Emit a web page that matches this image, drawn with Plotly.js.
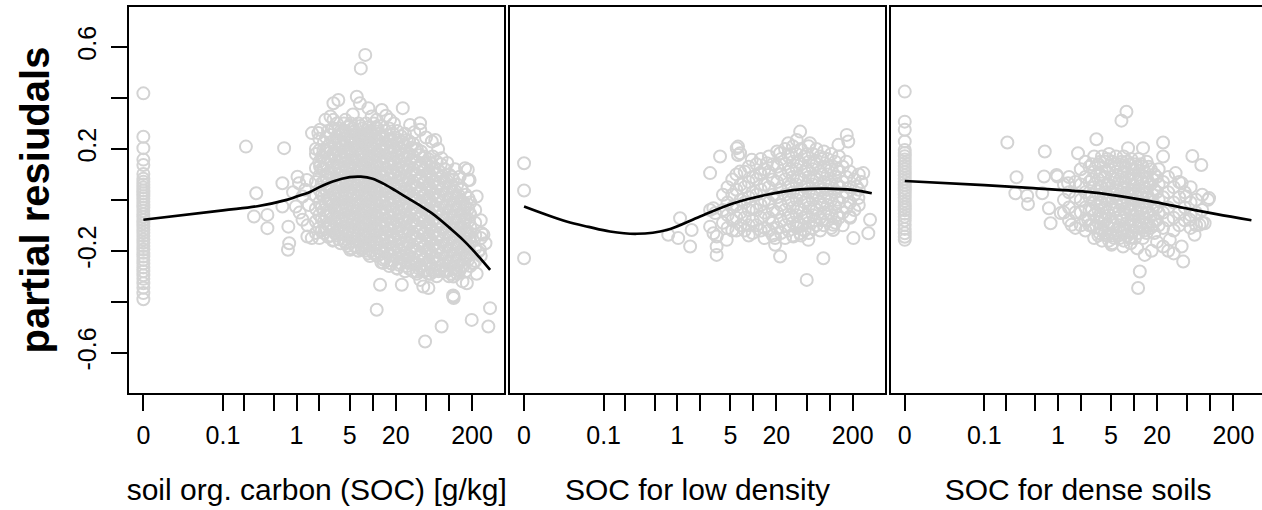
<!DOCTYPE html>
<html><head><meta charset="utf-8">
<script src="https://cdn.plot.ly/plotly-3.0.1.min.js"></script>
<style>html,body{margin:0;padding:0;overflow:hidden;background:#fff}#chart{width:1266px;height:510px}</style>
</head><body><div id="chart"></div>
<script>
// SOC axis is drawn as log10(SOC + 0.01)
const OFFSET = 0.01;
const tickSOC = [0, 0.1, 0.2, 0.5, 1, 2, 5, 10, 20, 50, 100, 200];
const tickLabels = ['0', '0.1', '', '', '1', '', '5', '', '20', '', '', '200'];
const yTicks = [-0.6, -0.4, -0.2, 0, 0.2, 0.4, 0.6];
const yTickLabels = ['-0.6', '', '-0.2', '', '0.2', '', '0.6'];
const panelTitles = ['soil org. carbon (SOC) [g/kg]', 'SOC for low density', 'SOC for dense soils'];
const yTitle = 'partial resiudals';

// panel 1: [SOC, partial residual]
const p1Points = [
[0,.418],[0,.248],[0,.203],[0,.158],[0,.137],[0,.102],[0,.083],[0,.071],[0,.06],[0,.049],[0,.037],[0,.026],[0,.014],[0,.004],[0,-.007],[0,-.019],[0,-.03],[0,-.043],[0,-.055],[0,-.066],[0,-.079],[0,-.092],[0,-.104],[0,-.117],[0,-.129],[0,-.142],[0,-.156],[0,-.168],[0,-.181],[0,-.195],[0,-.208],[0,-.222],[0,-.236],[0,-.25],[0,-.265],[0,-.28],[0,-.296],[0,-.31],[0,-.327],[0,-.345],[0,-.366],[0,-.39],
[.21,.209],[.685,.203],[.29,.026],[.27,-.065],[.41,-.059],[.41,-.111],[.65,.065],[.65,-.026],[.78,-.105],[.8,-.17],[.77,-.196],[1.03,.091],[1.08,.065],[.98,-.026],[1.2,-.078],[1.2,.013],[1.39,-.144],[1.3,.04],[1.45,-.02],[1.37,.078],[1.4,-.1],[.9,.03],[1.1,-.05],
[8,.569],[7,.516],[3.55,.392],[3.06,.379],[6.2,.405],[6.8,.379],[8.8,.36],[13.2,.353],[24.8,.36],[16.9,.314],[41.8,.301],[3.06,.314],[1.94,.262],[2.26,.196],[59.5,.229],[80,.163],[162,.124],[179,.078],[179,.007],[2.04,.131],[2.04,.275],[1.6,.262],[2.4,.314],[2.8,.327],[4.4,.314],[11.3,.314],[9.7,.327],[30.9,.294],[42,.275],[66,.235],[108,.091],[138,.091],[186,.078],[146,.046],[176,.118],[230,.013],[186,-.052],[1.8,.2],[5.5,.335],[15,.33],[19,.3],[35,.265],[50,.245],[72,.2],[95,.145],[120,.12],
[1.59,-.15],[3.06,-.157],[5.06,-.196],[7.2,-.196],[13.8,-.248],[20.7,-.268],[12.5,-.333],[24.1,-.333],[46,-.34],[53.7,-.346],[114,-.379],[115,-.385],[113,-.375],[11.3,-.431],[80,-.497],[48.6,-.556],[198,-.471],[327,-.497],[344,-.425],[282,-.137],[242,-.203],[171,-.327],[76,-.275],[114,-.301],[37.8,-.281],[29.3,-.248],[42,-.314],[93,-.281],[126,-.275],[208,-.248],[254,-.196],[268,-.131],[171,-.131],[300,-.17],[230,-.29],[150,-.32],
[1.8,.18],[1.8,.125],[1.8,.07],[1.8,.015],[1.8,-.035],[1.8,-.085],[1.8,-.13],
[2,.24],[2,.195],[2,.15],[2,.095],[2,.04],[2,-.01],[2,-.06],[2,-.11],[2,-.15],
[2.3,.225],[2.3,.165],[2.3,.12],[2.3,.07],[2.3,.015],[2.3,-.04],[2.3,-.085],[2.3,-.13],
[2.6,.27],[2.6,.21],[2.6,.16],[2.6,.105],[2.6,.05],[2.6,0],[2.6,-.05],[2.6,-.1],[2.6,-.145],
[3,.28],[3,.23],[3,.18],[3,.13],[3,.08],[3,.025],[3,-.02],[3,-.07],[3,-.12],[3,-.16],
[3.4,.3],[3.4,.25],[3.4,.2],[3.4,.15],[3.4,.1],[3.4,.05],[3.4,.003],[3.4,-.045],[3.4,-.095],[3.4,-.14],
[3.8,.27],[3.8,.22],[3.8,.17],[3.8,.12],[3.8,.07],[3.8,.02],[3.8,-.03],[3.8,-.08],[3.8,-.125],[3.8,-.17],
[4.2,.3],[4.2,.24],[4.2,.19],[4.2,.14],[4.2,.09],[4.2,.04],[4.2,-.01],[4.2,-.06],[4.2,-.11],[4.2,-.16],
[4.7,.285],[4.7,.225],[4.7,.17],[4.7,.12],[4.7,.07],[4.7,.02],[4.7,-.03],[4.7,-.08],[4.7,-.13],[4.7,-.18],
[5.2,.3],[5.2,.25],[5.2,.2],[5.2,.15],[5.2,.1],[5.2,.05],[5.2,.002],[5.2,-.05],[5.2,-.1],[5.2,-.15],[5.2,-.19],
[5.8,.27],[5.8,.22],[5.8,.165],[5.8,.12],[5.8,.07],[5.8,.02],[5.8,-.03],[5.8,-.08],[5.8,-.13],[5.8,-.18],
[6.5,.3],[6.5,.25],[6.5,.2],[6.5,.14],[6.5,.09],[6.5,.04],[6.5,-.01],[6.5,-.06],[6.5,-.11],[6.5,-.16],[6.5,-.2],
[7.3,.28],[7.3,.23],[7.3,.18],[7.3,.125],[7.3,.07],[7.3,.02],[7.3,-.04],[7.3,-.09],[7.3,-.14],[7.3,-.19],
[8.2,.3],[8.2,.25],[8.2,.2],[8.2,.15],[8.2,.1],[8.2,.05],[8.2,.004],[8.2,-.05],[8.2,-.1],[8.2,-.15],[8.2,-.2],
[9.2,.27],[9.2,.22],[9.2,.17],[9.2,.12],[9.2,.07],[9.2,.02],[9.2,-.03],[9.2,-.08],[9.2,-.13],[9.2,-.18],[9.2,-.22],
[10.3,.3],[10.3,.25],[10.3,.2],[10.3,.15],[10.3,.1],[10.3,.045],[10.3,-.01],[10.3,-.06],[10.3,-.11],[10.3,-.16],[10.3,-.21],
[11.5,.28],[11.5,.23],[11.5,.18],[11.5,.13],[11.5,.08],[11.5,.03],[11.5,-.02],[11.5,-.07],[11.5,-.12],[11.5,-.17],[11.5,-.22],
[13,.29],[13,.24],[13,.19],[13,.14],[13,.09],[13,.04],[13,-.01],[13,-.06],[13,-.11],[13,-.16],[13,-.21],[13,-.245],
[14.6,.27],[14.6,.22],[14.6,.17],[14.6,.12],[14.6,.07],[14.6,.02],[14.6,-.03],[14.6,-.08],[14.6,-.13],[14.6,-.18],[14.6,-.23],
[16.5,.28],[16.5,.23],[16.5,.18],[16.5,.13],[16.5,.08],[16.5,.03],[16.5,-.02],[16.5,-.07],[16.5,-.12],[16.5,-.17],[16.5,-.22],[16.5,-.26],
[18.5,.26],[18.5,.21],[18.5,.16],[18.5,.11],[18.5,.06],[18.5,.01],[18.5,-.04],[18.5,-.09],[18.5,-.14],[18.5,-.19],[18.5,-.24],
[21,.27],[21,.22],[21,.17],[21,.12],[21,.07],[21,.02],[21,-.03],[21,-.08],[21,-.13],[21,-.18],[21,-.23],[21,-.27],
[23.5,.25],[23.5,.2],[23.5,.15],[23.5,.1],[23.5,.05],[23.5,.003],[23.5,-.05],[23.5,-.1],[23.5,-.15],[23.5,-.2],[23.5,-.25],
[26.5,.26],[26.5,.21],[26.5,.16],[26.5,.11],[26.5,.06],[26.5,.01],[26.5,-.04],[26.5,-.09],[26.5,-.14],[26.5,-.19],[26.5,-.24],[26.5,-.28],
[30,.23],[30,.18],[30,.13],[30,.08],[30,.03],[30,-.02],[30,-.07],[30,-.12],[30,-.17],[30,-.22],[30,-.27],
[34,.22],[34,.17],[34,.12],[34,.07],[34,.02],[34,-.03],[34,-.08],[34,-.13],[34,-.18],[34,-.23],[34,-.28],
[38,.2],[38,.15],[38,.1],[38,.05],[38,.002],[38,-.05],[38,-.1],[38,-.15],[38,-.2],[38,-.25],[38,-.29],
[43,.19],[43,.14],[43,.09],[43,.04],[43,-.01],[43,-.06],[43,-.11],[43,-.16],[43,-.21],[43,-.26],
[48,.17],[48,.12],[48,.07],[48,.02],[48,-.03],[48,-.08],[48,-.13],[48,-.18],[48,-.23],[48,-.28],
[54,.16],[54,.11],[54,.06],[54,.01],[54,-.04],[54,-.09],[54,-.14],[54,-.19],[54,-.24],[54,-.29],
[61,.17],[61,.12],[61,.07],[61,.02],[61,-.03],[61,-.08],[61,-.13],[61,-.18],[61,-.23],[61,-.28],
[69,.15],[69,.1],[69,.05],[69,.0],[69,-.05],[69,-.1],[69,-.15],[69,-.2],[69,-.25],[69,-.3],
[78,.14],[78,.09],[78,.04],[78,-.01],[78,-.06],[78,-.11],[78,-.16],[78,-.21],[78,-.26],
[88,.12],[88,.07],[88,.02],[88,-.03],[88,-.08],[88,-.13],[88,-.18],[88,-.23],[88,-.28],
[100,.1],[100,.05],[100,.0],[100,-.05],[100,-.1],[100,-.15],[100,-.2],[100,-.25],[100,-.3],
[113,.08],[113,.03],[113,-.02],[113,-.07],[113,-.12],[113,-.17],[113,-.22],[113,-.27],
[128,.06],[128,.01],[128,-.04],[128,-.09],[128,-.14],[128,-.19],[128,-.24],[128,-.29],
[145,.04],[145,-.01],[145,-.06],[145,-.11],[145,-.16],[145,-.21],[145,-.26],
[165,.02],[165,-.03],[165,-.08],[165,-.13],[165,-.18],[165,-.23],[165,-.28],
[190,-.01],[190,-.06],[190,-.11],[190,-.16],[190,-.21],[190,-.26],
[220,-.04],[220,-.09],[220,-.14],[220,-.19],[220,-.24],
[260,-.08],[260,-.15],[260,-.22],
[2.15,.17],[2.15,.12],[2.15,.065],[2.15,.02],[2.15,-.03],[2.15,-.075],[2.15,-.12],
[2.45,.245],[2.45,.19],[2.45,.14],[2.45,.09],[2.45,.04],[2.45,-.015],[2.45,-.065],[2.45,-.115],
[2.8,.255],[2.8,.2],[2.8,.155],[2.8,.1],[2.8,.055],[2.8,.005],[2.8,-.045],[2.8,-.095],[2.8,-.14],
[3.2,.275],[3.2,.225],[3.2,.175],[3.2,.125],[3.2,.075],[3.2,.025],[3.2,-.025],[3.2,-.075],[3.2,-.13],
[3.6,.28],[3.6,.23],[3.6,.18],[3.6,.13],[3.6,.075],[3.6,.03],[3.6,-.02],[3.6,-.07],[3.6,-.115],[3.6,-.155],
[4,.265],[4,.215],[4,.165],[4,.11],[4,.065],[4,.015],[4,-.035],[4,-.085],[4,-.135],
[4.45,.27],[4.45,.215],[4.45,.16],[4.45,.11],[4.45,.06],[4.45,.01],[4.45,-.04],[4.45,-.09],[4.45,-.14],[4.45,-.17],
[4.95,.29],[4.95,.24],[4.95,.19],[4.95,.135],[4.95,.085],[4.95,.035],[4.95,-.015],[4.95,-.065],[4.95,-.115],[4.95,-.165],
[5.5,.28],[5.5,.23],[5.5,.18],[5.5,.125],[5.5,.08],[5.5,.025],[5.5,-.025],[5.5,-.075],[5.5,-.12],[5.5,-.165],
[6.1,.26],[6.1,.21],[6.1,.155],[6.1,.105],[6.1,.055],[6.1,.005],[6.1,-.045],[6.1,-.095],[6.1,-.145],[6.1,-.185],
[6.9,.29],[6.9,.24],[6.9,.185],[6.9,.135],[6.9,.085],[6.9,.035],[6.9,-.015],[6.9,-.065],[6.9,-.115],[6.9,-.165],
[7.7,.26],[7.7,.215],[7.7,.16],[7.7,.11],[7.7,.06],[7.7,.01],[7.7,-.04],[7.7,-.09],[7.7,-.14],[7.7,-.18],
[8.7,.285],[8.7,.235],[8.7,.185],[8.7,.135],[8.7,.085],[8.7,.03],[8.7,-.02],[8.7,-.07],[8.7,-.12],[8.7,-.17],[8.7,-.21],
[9.7,.26],[9.7,.21],[9.7,.16],[9.7,.105],[9.7,.055],[9.7,.005],[9.7,-.045],[9.7,-.095],[9.7,-.145],[9.7,-.2],
[10.9,.285],[10.9,.235],[10.9,.18],[10.9,.13],[10.9,.08],[10.9,.03],[10.9,-.02],[10.9,-.07],[10.9,-.12],[10.9,-.17],[10.9,-.21],
[12.2,.26],[12.2,.21],[12.2,.155],[12.2,.105],[12.2,.055],[12.2,.005],[12.2,-.045],[12.2,-.095],[12.2,-.145],[12.2,-.19],
[13.8,.25],[13.8,.2],[13.8,.145],[13.8,.095],[13.8,.045],[13.8,-.005],[13.8,-.055],[13.8,-.105],[13.8,-.155],[13.8,-.2],[13.8,-.235],
[15.5,.255],[15.5,.205],[15.5,.15],[15.5,.1],[15.5,.05],[15.5,.0],[15.5,-.05],[15.5,-.1],[15.5,-.15],[15.5,-.2],
[17.5,.24],[17.5,.19],[17.5,.14],[17.5,.085],[17.5,.035],[17.5,-.015],[17.5,-.065],[17.5,-.115],[17.5,-.165],[17.5,-.215],[17.5,-.25],
[19.7,.245],[19.7,.195],[19.7,.145],[19.7,.095],[19.7,.045],[19.7,-.005],[19.7,-.055],[19.7,-.105],[19.7,-.155],[19.7,-.205],
[22.2,.235],[22.2,.185],[22.2,.135],[22.2,.085],[22.2,.035],[22.2,-.015],[22.2,-.065],[22.2,-.115],[22.2,-.165],[22.2,-.215],[22.2,-.255],
[25,.225],[25,.175],[25,.125],[25,.075],[25,.025],[25,-.025],[25,-.075],[25,-.125],[25,-.175],[25,-.225],
[28,.235],[28,.185],[28,.135],[28,.085],[28,.035],[28,-.015],[28,-.065],[28,-.115],[28,-.165],[28,-.215],[28,-.26],
[32,.205],[32,.155],[32,.105],[32,.055],[32,.005],[32,-.045],[32,-.095],[32,-.145],[32,-.195],[32,-.245],
[36,.195],[36,.145],[36,.095],[36,.045],[36,-.005],[36,-.055],[36,-.105],[36,-.155],[36,-.205],[36,-.255],
[40.5,.175],[40.5,.125],[40.5,.075],[40.5,.025],[40.5,-.025],[40.5,-.075],[40.5,-.125],[40.5,-.175],[40.5,-.225],[40.5,-.27],
[45.5,.165],[45.5,.115],[45.5,.065],[45.5,.015],[45.5,-.035],[45.5,-.085],[45.5,-.135],[45.5,-.185],[45.5,-.235],[45.5,-.28],
[51,.145],[51,.095],[51,.045],[51,-.005],[51,-.055],[51,-.105],[51,-.155],[51,-.205],[51,-.255],
[57,.145],[57,.095],[57,.045],[57,-.005],[57,-.055],[57,-.105],[57,-.155],[57,-.205],[57,-.255],[57,-.29],
[65,.125],[65,.075],[65,.025],[65,-.025],[65,-.075],[65,-.125],[65,-.175],[65,-.225],[65,-.275],
[73,.115],[73,.065],[73,.015],[73,-.035],[73,-.085],[73,-.135],[73,-.185],[73,-.235],[73,-.28],
[83,.095],[83,.045],[83,-.005],[83,-.055],[83,-.105],[83,-.155],[83,-.205],[83,-.255],
[94,.075],[94,.025],[94,-.025],[94,-.075],[94,-.125],[94,-.175],[94,-.225],[94,-.275],
[106,.055],[106,.005],[106,-.045],[106,-.095],[106,-.145],[106,-.195],[106,-.245],[106,-.29],
[120,.035],[120,-.015],[120,-.065],[120,-.115],[120,-.165],[120,-.215],[120,-.265],
[136,.015],[136,-.035],[136,-.085],[136,-.135],[136,-.185],[136,-.235],[136,-.28],
[155,-.01],[155,-.06],[155,-.11],[155,-.16],[155,-.21],[155,-.26],
[178,-.035],[178,-.085],[178,-.135],[178,-.185],[178,-.235]
];

// panel 2: [SOC for low density, partial residual]
const p2Points = [
[0,.144],[0,.037],[0,-.229],
[1.09,-.072],[.76,-.137],[1.03,-.15],[1.48,-.183],[1.55,-.118],[2.71,.105],[3.66,.17],[6.06,.203],[6.7,.183],[9.54,.157],[6.7,.111],[2.99,-.033],[3.15,-.052],[2.71,-.105],[3.31,-.144],[4.48,-.157],[3.3,-.183],[3.3,-.216],[22.4,-.222],[19.3,-.176],[19.3,-.15],[82.5,-.229],[50,-.314],[204,-.15],[320,-.131],[337,-.078],[275,.105],[225,.052],[237,.007],[260,.07],[167,.255],[175,.229],[130,.216],[41,.268],[37,.235],[28.7,.222],[55,.222],[22.4,.183],[15,.144],[12.2,.105],[52.5,-.157],[33.4,-.144],[111,-.118],[111,-.098],[184,-.065],[41,-.131],[6.3,.209],[6.3,.176],[2.71,-.04],[3,-.131],
[4,.02],[4,-.04],[4,-.09],
[4.6,.05],[4.6,-.01],[4.6,-.06],[4.6,-.11],
[5.3,.08],[5.3,.02],[5.3,-.03],[5.3,-.08],[5.3,-.12],
[6,.1],[6,.04],[6,-.02],[6,-.07],[6,-.12],
[6.8,.06],[6.8,.0],[6.8,-.05],[6.8,-.1],
[7.7,.11],[7.7,.05],[7.7,-.01],[7.7,-.07],[7.7,-.12],
[8.7,.13],[8.7,.07],[8.7,.01],[8.7,-.04],[8.7,-.1],[8.7,-.14],
[9.8,.09],[9.8,.03],[9.8,-.03],[9.8,-.08],[9.8,-.13],
[11,.14],[11,.08],[11,.02],[11,-.04],[11,-.1],
[12.5,.16],[12.5,.1],[12.5,.04],[12.5,-.02],[12.5,-.07],[12.5,-.12],
[14,.12],[14,.06],[14,.0],[14,-.05],[14,-.11],[14,-.15],
[16,.17],[16,.11],[16,.05],[16,-.01],[16,-.07],[16,-.12],
[18,.14],[18,.08],[18,.02],[18,-.04],[18,-.09],[18,-.14],
[20.5,.19],[20.5,.13],[20.5,.07],[20.5,.01],[20.5,-.05],[20.5,-.11],
[23,.16],[23,.1],[23,.04],[23,-.02],[23,-.08],[23,-.13],
[26,.2],[26,.14],[26,.08],[26,.02],[26,-.04],[26,-.1],[26,-.15],
[29,.17],[29,.11],[29,.05],[29,-.01],[29,-.07],[29,-.12],
[33,.21],[33,.15],[33,.09],[33,.03],[33,-.03],[33,-.09],[33,-.14],
[37,.18],[37,.12],[37,.06],[37,.0],[37,-.06],[37,-.11],
[42,.2],[42,.14],[42,.08],[42,.02],[42,-.04],[42,-.1],[42,-.14],
[47,.17],[47,.11],[47,.05],[47,-.01],[47,-.07],[47,-.12],
[53,.21],[53,.15],[53,.09],[53,.03],[53,-.03],[53,-.09],[53,-.13],
[60,.18],[60,.12],[60,.06],[60,.0],[60,-.06],[60,-.11],
[67,.2],[67,.14],[67,.08],[67,.02],[67,-.04],[67,-.1],
[75,.17],[75,.11],[75,.05],[75,-.01],[75,-.07],[75,-.12],
[84,.19],[84,.13],[84,.07],[84,.01],[84,-.05],[84,-.1],
[94,.16],[94,.1],[94,.04],[94,-.02],[94,-.08],
[105,.18],[105,.12],[105,.06],[105,.0],[105,-.06],[105,-.11],
[118,.15],[118,.09],[118,.03],[118,-.03],[118,-.09],
[132,.17],[132,.11],[132,.05],[132,-.01],[132,-.07],
[148,.13],[148,.07],[148,.01],[148,-.05],[148,-.1],
[165,.15],[165,.09],[165,.03],[165,-.03],
[185,.11],[185,.05],[185,-.01],[185,-.07],
[210,.08],[210,.02],[210,-.04],
[240,.1],[240,.04],[240,-.02],
[31,.18],[31,.12],[31,.06],[31,.0],[31,-.06],
[39,.15],[39,.09],[39,.03],[39,-.03],[39,-.09],
[50,.18],[50,.12],[50,.06],[50,.0],[50,-.06],
[63,.15],[63,.09],[63,.03],[63,-.03],[63,-.08],
[79,.16],[79,.1],[79,.04],[79,-.02],[79,-.08],
[99,.13],[99,.07],[99,.01],[99,-.05],
[125,.12],[125,.06],[125,.0],[125,-.06]
];

// panel 3: [SOC for dense soils, partial residual]
const p3Points = [
[0,.425],[0,.307],[0,.275],[0,.229],[0,.196],[0,.184],[0,.171],[0,.158],[0,.146],[0,.133],[0,.121],[0,.108],[0,.096],[0,.083],[0,.071],[0,.058],[0,.046],[0,.034],[0,.021],[0,.009],[0,-.004],[0,-.016],[0,-.029],[0,-.041],[0,-.054],[0,-.066],[0,-.081],[0,-.098],[0,-.114],[0,-.131],[0,-.145],[0,-.157],
[.21,.225],[.67,.19],[.28,.089],[.27,.026],[.39,.016],[.4,-.016],[.655,.092],[.62,.026],[.76,-.033],[.8,-.092],[.985,.092],[1.09,-.052],[.96,.098],[1.36,.065],[1.51,-.098],[7.95,.346],[6.84,.311],[3.21,.238],[1.84,.183],[8.35,.203],[13.1,.203],[24,.225],[24,.17],[58,.172],[76,.137],[35,.105],[42,.065],[96,.007],[48,.013],[72,-.098],[62,-.137],[42,-.183],[44,-.242],[24,-.183],[13.8,-.216],[11.9,-.281],[11.3,-.346],[5.06,-.176],[7.18,-.183],[3.55,-.131],[2.5,-.078],[84,-.092],[53.6,-.078],[29.4,-.157],[93,0],[9,-.17],[11,-.19],[17,-.2],[20,-.165],[28,-.2],[33,-.21],
[1.2,.06],[1.2,.0],[1.2,-.05],
[1.4,.09],[1.4,.03],[1.4,-.03],[1.4,-.08],
[1.7,.07],[1.7,.01],[1.7,-.05],[1.7,-.11],
[2,.12],[2,.06],[2,.0],[2,-.05],[2,-.1],
[2.3,.15],[2.3,.09],[2.3,.03],[2.3,-.03],[2.3,-.08],[2.3,-.12],
[2.6,.13],[2.6,.07],[2.6,.01],[2.6,-.04],[2.6,-.1],
[3,.17],[3,.11],[3,.05],[3,-.01],[3,-.06],[3,-.11],[3,-.15],
[3.4,.14],[3.4,.08],[3.4,.02],[3.4,-.04],[3.4,-.09],[3.4,-.14],
[3.8,.17],[3.8,.11],[3.8,.05],[3.8,-.01],[3.8,-.07],[3.8,-.12],[3.8,-.16],
[4.2,.15],[4.2,.09],[4.2,.03],[4.2,-.03],[4.2,-.08],[4.2,-.13],
[4.7,.18],[4.7,.12],[4.7,.06],[4.7,.0],[4.7,-.06],[4.7,-.11],[4.7,-.16],
[5.2,.15],[5.2,.09],[5.2,.03],[5.2,-.03],[5.2,-.09],[5.2,-.14],[5.2,-.17],
[5.8,.17],[5.8,.11],[5.8,.05],[5.8,-.01],[5.8,-.07],[5.8,-.12],
[6.5,.14],[6.5,.08],[6.5,.02],[6.5,-.04],[6.5,-.1],[6.5,-.15],
[7.3,.17],[7.3,.11],[7.3,.05],[7.3,-.01],[7.3,-.07],[7.3,-.12],[7.3,-.16],
[8.2,.15],[8.2,.09],[8.2,.03],[8.2,-.03],[8.2,-.09],[8.2,-.14],
[9.2,.16],[9.2,.1],[9.2,.04],[9.2,-.02],[9.2,-.08],[9.2,-.13],
[10.3,.14],[10.3,.08],[10.3,.02],[10.3,-.04],[10.3,-.1],[10.3,-.15],
[11.5,.16],[11.5,.1],[11.5,.04],[11.5,-.02],[11.5,-.08],[11.5,-.13],
[13,.13],[13,.07],[13,.01],[13,-.05],[13,-.11],[13,-.15],
[14.6,.15],[14.6,.09],[14.6,.03],[14.6,-.03],[14.6,-.09],[14.6,-.13],
[16.5,.12],[16.5,.06],[16.5,.0],[16.5,-.06],[16.5,-.11],
[18.5,.1],[18.5,.04],[18.5,-.02],[18.5,-.08],[18.5,-.13],
[21,.12],[21,.06],[21,.0],[21,-.05],[21,-.1],
[24,.07],[24,.01],[24,-.05],[24,-.11],
[28,.09],[28,.03],[28,-.03],[28,-.08],
[33,.05],[33,-.01],[33,-.07],[33,-.12],
[39,.07],[39,.01],[39,-.05],[39,-.1],
[46,.03],[46,-.03],[46,-.08],
[55,.05],[55,-.01],[55,-.06],[55,-.11],
[65,.0],[65,-.05],[65,-.1],
[78,.02],[78,-.04],[78,-.09],
[2.8,.14],[2.8,.08],[2.8,.02],[2.8,-.04],[2.8,-.1],
[3.6,.15],[3.6,.1],[3.6,.05],[3.6,-.01],[3.6,-.06],[3.6,-.11],
[4.45,.16],[4.45,.11],[4.45,.06],[4.45,.0],[4.45,-.05],[4.45,-.1],[4.45,-.14],
[5.5,.14],[5.5,.08],[5.5,.02],[5.5,-.04],[5.5,-.1],[5.5,-.15],
[6.9,.15],[6.9,.09],[6.9,.03],[6.9,-.02],[6.9,-.08],[6.9,-.13],
[7.7,.13],[7.7,.07],[7.7,.01],[7.7,-.05],[7.7,-.11],
[8.7,.14],[8.7,.08],[8.7,.02],[8.7,-.04],[8.7,-.1],[8.7,-.15],
[9.7,.12],[9.7,.06],[9.7,.0],[9.7,-.06],[9.7,-.12],
[10.9,.13],[10.9,.07],[10.9,.01],[10.9,-.05],[10.9,-.11],
[12.2,.14],[12.2,.08],[12.2,.02],[12.2,-.04],[12.2,-.1],
[13.8,.11],[13.8,.05],[13.8,-.01],[13.8,-.07],[13.8,-.12],
[15.5,.13],[15.5,.07],[15.5,.01],[15.5,-.05],[15.5,-.1],
[17.5,.08],[17.5,.02],[17.5,-.04],[17.5,-.1],
[19.7,.09],[19.7,.03],[19.7,-.03],[19.7,-.08]
];

// fitted smooth curves
const curve1SOC = [0, 0.1, 0.3, 0.74, 1, 1.5, 2, 3, 5, 7, 10, 15, 20, 30, 40, 60, 80, 100, 150, 200, 250, 345];
const curve1Res = [-0.078, -0.041, -0.025, 0.0, 0.013, 0.031, 0.05, 0.072, 0.089, 0.091, 0.083, 0.058, 0.036, 0.004, -0.019, -0.053, -0.083, -0.108, -0.155, -0.193, -0.226, -0.275];
const curve2SOC = [0, 0.026, 0.06, 0.123, 0.29, 0.73, 2, 5.5, 15, 41, 91, 200, 355];
const curve2Res = [-0.026, -0.085, -0.106, -0.124, -0.133, -0.118, -0.065, -0.013, 0.020, 0.041, 0.044, 0.039, 0.026];
const curve3SOC = [0, 0.1, 0.47, 2.1, 5.9, 16, 44, 120, 344];
const curve3Res = [0.074, 0.058, 0.046, 0.033, 0.017, -0.005, -0.031, -0.056, -0.080];

const FONT = 'Liberation Sans, Arial, Helvetica, sans-serif';
const W = 1266, H = 510;
const plotL = 129, plotR = 1266, plotT = 7, plotB = 393;
const panelPx = [[129.3, 504.2], [510, 884.9], [890.7, 1265.6]];
const pw = plotR - plotL;
const doms = panelPx.map(p => [(p[0] - plotL) / pw, Math.min(1, (p[1] - plotL) / pw)]);

const pointSets = [p1Points, p2Points, p3Points];
const curves = [[curve1SOC, curve1Res], [curve2SOC, curve2Res], [curve3SOC, curve3Res]];
const traces = [];
pointSets.forEach((pts, i) => {
  const ax = i === 0 ? '' : String(i + 1);
  traces.push({
    type: 'scatter', mode: 'markers', xaxis: 'x' + ax, yaxis: 'y' + ax,
    x: pts.map(p => p[0] + OFFSET), y: pts.map(p => p[1]),
    marker: {symbol: 'circle-open', size: 12, color: '#d3d3d3', line: {width: 2, color: '#d3d3d3'}},
    hoverinfo: 'skip', showlegend: false
  });
});
curves.forEach((c, i) => {
  const ax = i === 0 ? '' : String(i + 1);
  traces.push({
    type: 'scatter', mode: 'lines', xaxis: 'x' + ax, yaxis: 'y' + ax,
    x: c[0].map(v => v + OFFSET), y: c[1],
    line: {color: '#000', width: 2.7, shape: 'spline', smoothing: 1},
    hoverinfo: 'skip', showlegend: false
  });
});

const xRange = [-2.184, 2.722];
const yRange = [-0.758, 0.757];
function xAxis(i) {
  return {
    type: 'log', range: xRange, domain: doms[i], anchor: i === 0 ? 'y' : 'y' + (i + 1),
    tickmode: 'array', tickvals: tickSOC.map(v => v + OFFSET), ticktext: tickLabels,
    ticks: 'outside', ticklen: 16, tickwidth: 2, tickcolor: '#000', ticklabelstandoff: 3,
    showline: true, linewidth: 2, linecolor: '#000', mirror: true,
    showgrid: false, zeroline: false,
    tickfont: {family: FONT, size: 25, color: '#000'},
    title: {text: panelTitles[i], font: {family: FONT, size: 30, color: '#000'}, standoff: 31}
  };
}
function yAxis(i) {
  const base = {
    range: yRange, domain: [0, 1], anchor: i === 0 ? 'x' : 'x' + (i + 1),
    showline: true, linewidth: 2, linecolor: '#000', mirror: true,
    showgrid: false, zeroline: false
  };
  if (i === 0) {
    Object.assign(base, {
      tickmode: 'array', tickvals: yTicks, ticktext: yTickLabels, tickangle: -90,
      ticks: 'outside', ticklen: 16, tickwidth: 2, tickcolor: '#000', ticklabelstandoff: 5,
      tickfont: {family: FONT, size: 25, color: '#000'},
      title: {text: '<b>' + yTitle + '</b>', font: {family: FONT, size: 40, color: '#000'}, standoff: 11}
    });
  } else {
    Object.assign(base, {showticklabels: false, ticks: ''});
  }
  return base;
}

const layout = {
  width: W, height: H,
  margin: {l: plotL, r: W - plotR, t: plotT, b: H - plotB, pad: 0},
  paper_bgcolor: '#fff', plot_bgcolor: '#fff',
  hovermode: false, showlegend: false,
  xaxis: xAxis(0), xaxis2: xAxis(1), xaxis3: xAxis(2),
  yaxis: yAxis(0), yaxis2: yAxis(1), yaxis3: yAxis(2)
};
Plotly.newPlot('chart', traces, layout, {staticPlot: true, displayModeBar: false});
</script>
</body></html>
